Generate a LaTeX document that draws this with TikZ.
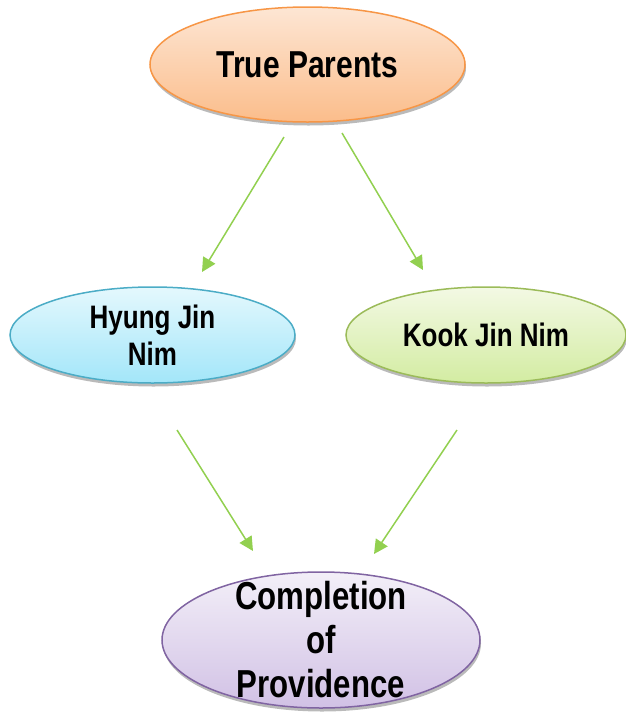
\documentclass[tikz,border=0pt]{standalone}
\usepackage{fontspec}
\setmainfont{Liberation Sans}[FakeStretch=0.8]
\usetikzlibrary{shapes.geometric,arrows.meta,shadows}

\definecolor{tpline}{HTML}{F79646}
\definecolor{tptop}{HTML}{FDE6D4}
\definecolor{tpbot}{HTML}{FBBD8B}
\definecolor{hjline}{HTML}{4BACC6}
\definecolor{hjtop}{HTML}{E4F8FD}
\definecolor{hjbot}{HTML}{A3E6F9}
\definecolor{kjline}{HTML}{9BBB59}
\definecolor{kjtop}{HTML}{F3F9E4}
\definecolor{kjbot}{HTML}{D3ECA2}
\definecolor{cpline}{HTML}{8064A2}
\definecolor{cptop}{HTML}{F3EFF8}
\definecolor{cpbot}{HTML}{D1C1E5}
\definecolor{flow}{HTML}{92D050}

\tikzset{
  bubble/.style={ellipse,draw,line width=1.5pt,inner sep=0pt,align=center,
    drop shadow={shadow xshift=1pt,shadow yshift=-3.5pt,fill=black!45,opacity=0.6}},
}

\begin{document}
\begin{tikzpicture}[x=1pt,y=-1pt]
        \useasboundingbox (0,0) rectangle (626,721);

        \begin{scope}[every node/.style={bubble}]
          \node (tp) at (307.5,64.5) [draw=tpline,top color=tptop,bottom color=tpbot,
            minimum width=315pt,minimum height=115pt,
            font=\bfseries\fontsize{37.5}{42}\selectfont] {True Parents};
          \node (hj) at (152.5,335) [draw=hjline,top color=hjtop,bottom color=hjbot,
            minimum width=285pt,minimum height=96pt,
            font=\bfseries\fontsize{32.5}{37}\selectfont] {Hyung Jin\\Nim};
          \node (kj) at (486,335) [draw=kjline,top color=kjtop,bottom color=kjbot,
            minimum width=280pt,minimum height=96pt,
            font=\bfseries\fontsize{32.5}{37}\selectfont] {Kook Jin Nim};
          \node (cp) at (321,640) [draw=cpline,top color=cptop,bottom color=cpbot,
            minimum width=318pt,minimum height=136pt,inner ysep=-16pt,
            font=\bfseries\fontsize{39}{44}\selectfont] {Completion\\of\\Providence};
        \end{scope}

        % arrow ends, kept clear of the bubbles
        \coordinate (tp-l) at (284,137);
        \coordinate (hj-t) at (202,272);
        \coordinate (tp-r) at (342,133);
        \coordinate (kj-t) at (423,270);
        \coordinate (hj-b) at (177,430);
        \coordinate (cp-l) at (253,551);
        \coordinate (kj-b) at (457,430);
        \coordinate (cp-r) at (374,554);

        \begin{scope}[every edge/.style={draw=flow,line width=1.5pt,
            -{Triangle[length=14pt,width=14pt]}}]
          \path (tp-l) edge (hj-t);
          \path (tp-r) edge (kj-t);
          \path (hj-b) edge (cp-l);
          \path (kj-b) edge (cp-r);
        \end{scope}

      \end{tikzpicture}
\end{document}
